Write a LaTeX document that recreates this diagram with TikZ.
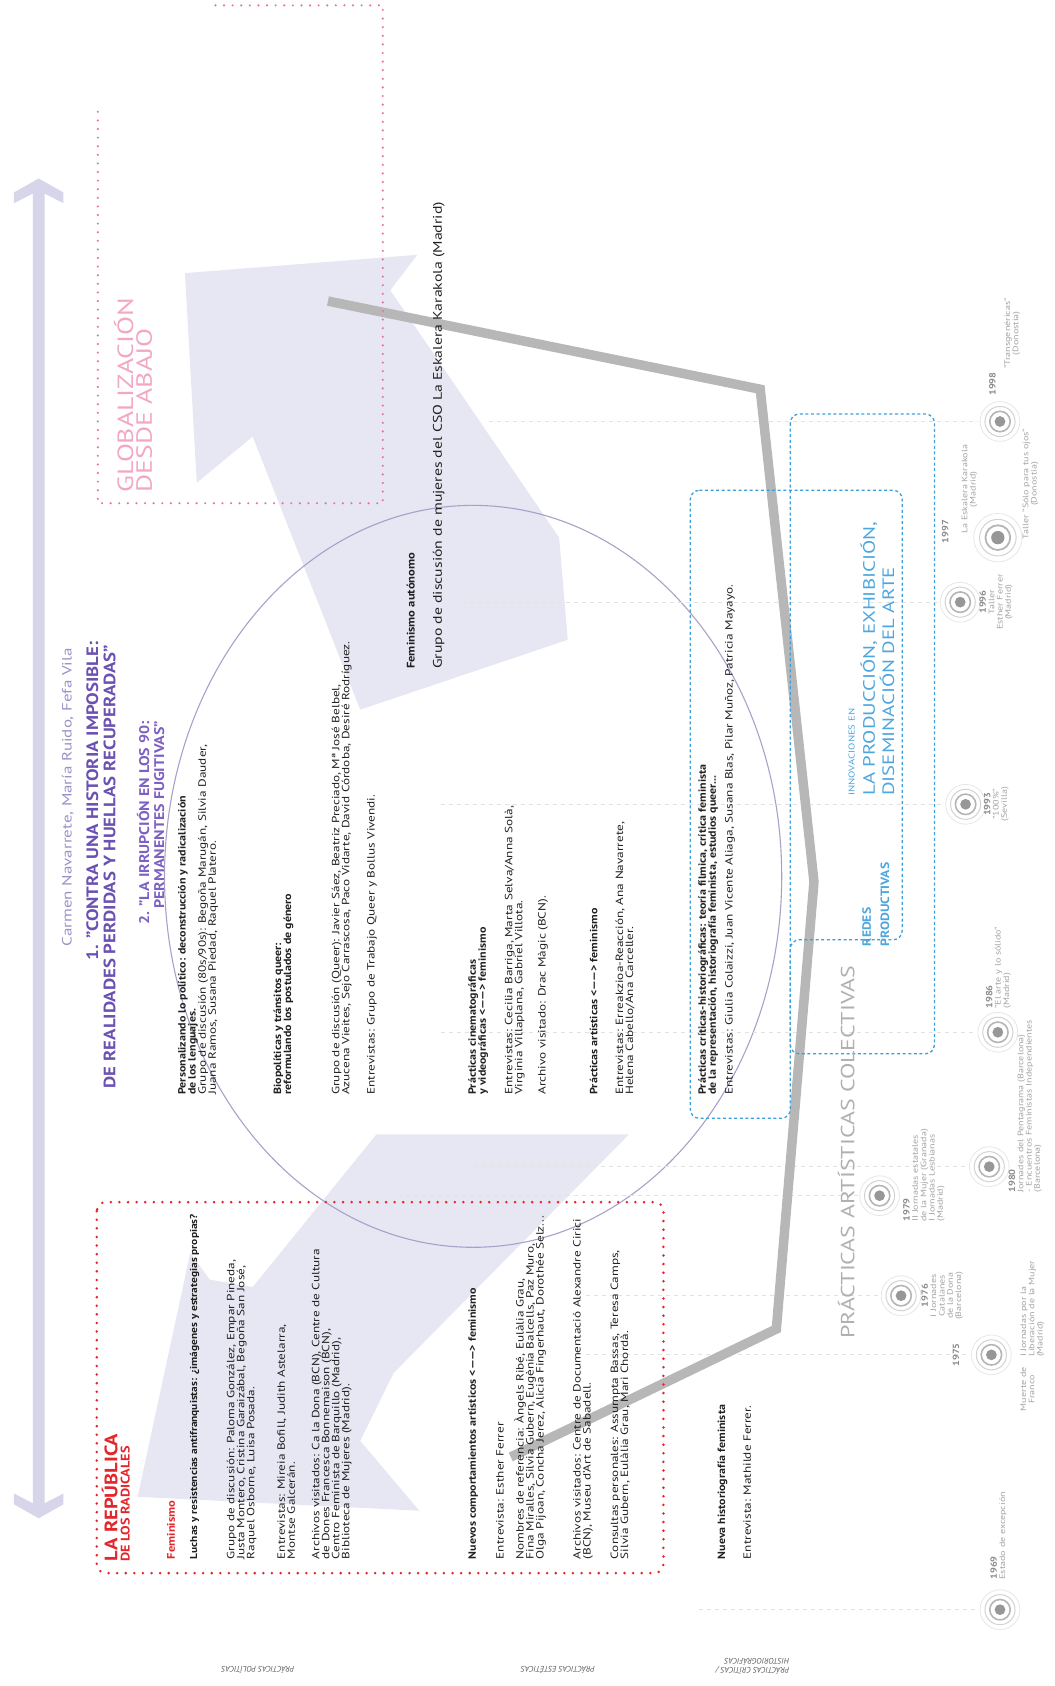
\documentclass[tikz,border=0pt]{standalone}
\usepackage{fontspec}
\setmainfont[UprightFeatures={FakeStretch=1.26},BoldFeatures={FakeStretch=1.14}]{PT Sans}
\newfontfamily\flatfont{PT Sans}
\definecolor{lav}{HTML}{D6D5EA}
\definecolor{pale}{HTML}{E7E6F3}
\definecolor{purp}{HTML}{6B51B2}
\definecolor{purp2}{HTML}{7C61C4}
\definecolor{auth}{HTML}{9A90C8}
\definecolor{pinkd}{HTML}{E8759F}
\definecolor{pinkt}{HTML}{F2A7C4}
\definecolor{redd}{HTML}{E2262C}
\definecolor{blued}{HTML}{3C9FDA}
\definecolor{bluet}{HTML}{4DA6DE}
\definecolor{txt}{HTML}{202020}
\definecolor{greyl}{HTML}{B7B7B7}
\definecolor{tly}{HTML}{8A8A8A}
\definecolor{tlt}{HTML}{A3A3A3}
\definecolor{ringa}{HTML}{B5B5B5}
\definecolor{ringb}{HTML}{D2D2D2}
\definecolor{ringc}{HTML}{E6E6E6}
\definecolor{dotc}{HTML}{979797}
\definecolor{circ}{HTML}{A7A1C9}
\definecolor{guidec}{HTML}{E2E2E2}
\definecolor{colect}{HTML}{B0B0B0}
\definecolor{lab}{HTML}{5E5E5E}
\tikzset{
  tlmark/.pic={
    \draw[ringc,line width=0.8pt] (0,0) circle (18.5);
    \draw[ringb,line width=1pt] (0,0) circle (14);
    \draw[ringa,line width=1.6pt] (0,0) circle (9.5);
    \fill[dotc] (0,0) circle (5);
  },
  tlbig/.pic={
    \draw[ringc,line width=0.8pt] (0,0) circle (22.5);
    \draw[ringb,line width=1pt] (0,0) circle (17);
    \draw[ringa,line width=1.8pt] (0,0) circle (11.5);
    \fill[dotc] (0,0) circle (6.2);
  }
}
\begin{document}
\begin{tikzpicture}[x=1.0753pt,y=-1.0753pt,
  rt/.style={rotate=90,inner sep=0pt,outer sep=0pt,align=left},
  body/.style={rt,font=\fontsize{10.5}{10}\selectfont,text=txt},
  hd/.style={rt,font=\fontsize{10.5}{10}\selectfont\bfseries,text=txt},
  tlyear/.style={rt,font=\fontsize{9}{9}\selectfont\bfseries,text=tly},
  tltext/.style={rt,font=\fontsize{8}{8.3}\selectfont,text=tlt},
  dotpink/.style={pinkd,line width=2.4pt,dash pattern=on 0pt off 8.6pt,line cap=round},
  dotred/.style={redd,line width=2.8pt,dash pattern=on 0pt off 8.6pt,line cap=round,rounded corners=9},
  dashblue/.style={blued,line width=1.3pt,dash pattern=on 3pt off 2.6pt,rounded corners=9},
  guide/.style={guidec,line width=0.9pt,dash pattern=on 4pt off 4pt},
  blab/.style={inner sep=0pt,rotate=180,font=\flatfont\itshape\fontsize{8}{9}\selectfont,text=lab,align=left}
]
\useasboundingbox (0,0) rectangle (981,1568);

% pale cyclic arrows
\fill[pale] (172,254) -- (388,237) -- (363,270) -- (520,500) -- (528,595) -- (335,660) -- (235,406) -- (183,449) -- cycle;
\fill[pale] (128,1392) -- (177,1165) -- (195,1190) -- (235,1197) -- (350,1055) -- (585,1055) -- (366,1277) -- (335,1340) -- (390,1405) -- cycle;

% big double arrow
\fill[lav] (36,166) -- (59,179) -- (59,189) -- (41.5,180) -- (41.5,1398) -- (59,1389) -- (59,1399) -- (36,1412) -- (13,1399) -- (13,1389) -- (30.5,1398) -- (30.5,180) -- (13,189) -- (13,179) -- cycle;

% circle
\draw[circ,line width=1.1pt] (440,815) ellipse [x radius=287,y radius=345];

% timeline marker positions
\coordinate (m1969) at (930,1497);
\coordinate (m1975) at (922,1260);
\coordinate (m1976) at (838,1205);
\coordinate (m1979) at (818,1112);
\coordinate (m1980) at (920,1085);
\coordinate (m1986) at (928,960);
\coordinate (m1993) at (898,748);
\coordinate (m1996) at (893,560);
\coordinate (m1997) at (928,500);
\coordinate (m1998) at (930,392);
\draw[guide] (455,392) -- (910,392);
\draw[guide] (430,560) -- (873,560);
\draw[guide] (410,748) -- (878,748);
\draw[guide] (410,960) -- (908,960);
\draw[guide] (440,1085) -- (900,1085);
\draw[guide] (370,1112) -- (798,1112);
\draw[guide] (545,1205) -- (818,1205);
\draw[guide] (545,1260) -- (902,1260);
\draw[guide] (650,1497) -- (910,1497);

% grey polyline
\coordinate (g1) at (305,280);
\coordinate (g2) at (707,362);
\coordinate (g3) at (757,820);
\coordinate (g4) at (722,1236);
\coordinate (g5) at (475,1355);
\draw[greyl,line width=9.5pt] (g1) -- (g2) -- (g3) -- (g4) -- (g5);

% pink box
\draw[dotpink] (91,104) -- (91,468) -- (356,468) -- (356,5) -- (195,5);
% red box
\draw[dotred] (90,1118) rectangle (617,1463);
% blue boxes
\draw[dashblue] (735,385) rectangle (869,980);
\draw[dashblue] (642,456) -- (839,456) -- (839,874) -- (735,874) -- (735,1040) -- (642,1040) -- cycle;

% left strip titles
\node[rt,anchor=west,font=\fontsize{13.5}{13}\selectfont,text=auth] (author) at (63,880) {Carmen Navarrete, María Ruido, Fefa Vila};
\node[rt,anchor=west,font=\fontsize{16.5}{16}\selectfont\bfseries,text=purp] (t1a) at (86,893) {1. "CONTRA UNA HISTORIA IMPOSIBLE:};
\node[rt,anchor=west,font=\fontsize{16.5}{16}\selectfont\bfseries,text=purp] (t1b) at (102,1012) {DE REALIDADES PERDIDAS Y HUELLAS RECUPERADAS"};
\node[rt,anchor=west,font=\fontsize{14}{14}\selectfont\bfseries,text=purp2] (t2a) at (133,860) {2. "LA IRRUPCIÓN EN LOS 90:};
\node[rt,anchor=west,font=\fontsize{14}{14}\selectfont\bfseries,text=purp2] (t2b) at (148,845) {PERMANENTES FUGITIVAS"};

% pink titles
\node[rt,anchor=west,font=\fontsize{22}{22}\selectfont,text=pinkt] (glob1) at (115,458) {GLOBALIZACIÓN};
\node[rt,anchor=west,font=\fontsize{22}{22}\selectfont,text=pinkt] (glob2) at (134,458) {DESDE ABAJO};

% red titles
\node[rt,anchor=west,font=\fontsize{18}{18}\selectfont\bfseries,text=redd] (rep1) at (102,1452) {LA REPÚBLICA};
\node[rt,anchor=west,font=\fontsize{12.5}{12}\selectfont\bfseries,text=redd] (rep2) at (116.5,1452) {DE LOS RADICALES};
\node[rt,anchor=west,font=\fontsize{11}{11}\selectfont\bfseries,text=redd] (fem) at (159,1450) {Feminismo};

% left column
\node[hd,anchor=west,font=\fontsize{10}{10}\selectfont\bfseries] (luchas) at (181,1450) {Luchas y resistencias antifranquistas: ¿imágenes y estrategias propias?};
\node[body,anchor=north west] (grupo1) at (211,1450) {Grupo de discusión: Paloma González, Empar Pineda,\\Justa Montero, Cristina Garaizábal, Begoña San José,\\Raquel Osborne, Luisa Posada.};
\node[body,anchor=north west] (entrev1) at (258,1450) {Entrevistas: Mireia Bofill, Judith Astelarra,\\Montse Galcerán.};
\node[body,anchor=north west] (arch1) at (290,1450) {Archivos visitados: Ca la Dona (BCN), Centre de Cultura\\de Dones Francesca Bonnemaison (BCN),\\Centro Feminista de Barquillo (Madrid),\\Biblioteca de Mujeres (Madrid).};
\node[hd,anchor=west] (nuevos) at (440,1450) {Nuevos comportamientos artísticos <——> feminismo};
\node[body,anchor=west] (esther) at (465,1450) {Entrevista: Esther Ferrer};
\node[body,anchor=north west] (nombres) at (478.5,1450) {Nombres de referencia: Àngels Ribé, Eulàlia Grau,\\Fina Miralles, Silvia Gubern, Eugènia Balcells, Paz Muro,\\Olga Pijoan, Concha Jerez, Alicia Fingerhaut, Dorothée Selz...};
\node[body,anchor=north west] (arch2) at (533,1450) {Archivos visitados: Centre de Documentació Alexandre Cirici\\(BCN), Museu d'Art de Sabadell.};
\node[body,anchor=north west] (consul) at (568,1450) {Consultas personales: Assumpta Bassas, Teresa Camps,\\Silvia Gubern, Eulàlia Grau, Mari Chordà.};
\node[hd,anchor=west] (nuevah) at (672,1450) {Nueva historiografía feminista};
\node[body,anchor=west] (mathilde) at (695,1450) {Entrevista: Mathilde Ferrer.};

% middle column
\node[hd,anchor=north west] (perso) at (165.5,1018) {Personalizando lo político: deconstrucción y radicalización\\de los lenguajes.};
\node[body,anchor=north west] (grupo2) at (184.5,1018) {Grupo de discusión (80s/90s): Begoña Marugán, Silvia Dauder,\\Juana Ramos, Susana Piedad, Raquel Platero.};
\node[hd,anchor=north west] (biop) at (254.5,1018) {Biopolíticas y tránsitos queer:\\reformulando los postulados de género};
\node[body,anchor=north west] (queer) at (308.5,1018) {Grupo de discusión (Queer): Javier Sáez, Beatriz Preciado, Mª José Belbel,\\Azucena Vieites, Sejo Carrascosa, Paco Vidarte, David Córdoba, Desiré Rodríguez.};
\node[body,anchor=west] (bollus) at (346,1018) {Entrevistas: Grupo de Trabajo Queer y Bollus Vivendi.};
\node[hd,anchor=north west] (cine) at (435.5,1018) {Prácticas cinematográficas\\y videográficas <——> feminismo};
\node[body,anchor=north west] (cecilia) at (469.5,1018) {Entrevistas: Cecilia Barriga, Marta Selva/Anna Solà,\\Virginia Villaplana, Gabriel Villota.};
\node[body,anchor=west] (drac) at (505,1018) {Archivo visitado: Drac Màgic (BCN).};
\node[hd,anchor=west] (artis) at (552,1018) {Prácticas artísticas <——> feminismo};
\node[body,anchor=north west] (erreak) at (572.5,1018) {Entrevistas: Erreakzioa-Reacción, Ana Navarrete,\\Helena Cabello/Ana Carceller.};
\node[hd,anchor=north west] (critic) at (649.5,1018) {Prácticas críticas-historiográficas: teoría fílmica, crítica feminista\\de la representación, historiografía feminista, estudios queer...};
\node[body,anchor=west] (giulia) at (679,1018) {Entrevistas: Giulia Colaizzi, Juan Vicente Aliaga, Susana Blas, Pilar Muñoz, Patricia Mayayo.};

% right
\node[hd,anchor=west,font=\fontsize{11}{11}\selectfont\bfseries] (femaut) at (382,622) {Feminismo autónomo};
\node[rt,anchor=west,font=\fontsize{12.5}{12}\selectfont,text=txt] (cso) at (408,622) {Grupo de discusión de mujeres del CSO La Eskalera Karakola (Madrid)};

% collective practices
\node[rt,anchor=west,font=\fontsize{19}{19}\selectfont,text=colect] (colec) at (787,1245) {PRÁCTICAS ARTÍSTICAS COLECTIVAS};
\node[rt,anchor=west,font=\fontsize{8.5}{8}\selectfont,text=bluet] (innov1) at (792,740) {INNOVACIONES EN};
\node[rt,anchor=west,font=\fontsize{16.5}{16}\selectfont,text=bluet] (innov2) at (808,740) {LA PRODUCCIÓN, EXHIBICIÓN,};
\node[rt,anchor=west,font=\fontsize{16.5}{16}\selectfont,text=bluet] (innov3) at (825,740) {DISEMINACIÓN DEL ARTE};
\node[rt,anchor=west,font=\fontsize{12}{12}\selectfont\bfseries,text=bluet] (redes1) at (806,880) {REDES};
\node[rt,anchor=west,font=\fontsize{12}{12}\selectfont\bfseries,text=bluet] (redes2) at (823,880) {PRODUCTIVAS};

% timeline markers
\pic at (m1969) {tlmark};
\pic at (m1975) {tlmark};
\pic at (m1976) {tlmark};
\pic at (m1979) {tlmark};
\pic at (m1980) {tlmark};
\pic at (m1986) {tlmark};
\pic at (m1993) {tlmark};
\pic at (m1996) {tlmark};
\pic at (m1997) {tlbig};
\pic at (m1998) {tlmark};

% timeline labels
\node[tltext,anchor=north west] (l1969) at (921,1469) {\textcolor{tly}{\bfseries\fontsize{9}{8}\selectfont 1969}\\Estado de excepción};
\node[tlyear,anchor=south] (y1975) at (892,1260) {1975};
\node[tltext,anchor=north,align=center] (l1975a) at (949,1292) {Muerte de\\Franco};
\node[tltext,anchor=north west] (l1975b) at (949,1262) {I Jornadas por la\\Liberación de la Mujer\\(Madrid)};
\node[tltext,anchor=north,align=center] (l1976) at (857,1205) {\textcolor{tly}{\bfseries\fontsize{9}{8}\selectfont 1976}\\I Jornades\\Catalanes\\de la Dona\\(Barcelona)};
\node[tltext,anchor=north west] (l1979) at (840,1136) {\textcolor{tly}{\bfseries\fontsize{9}{8}\selectfont 1979}\\II Jornadas estatales\\de la Mujer (Granada)\\I Jornadas Lesbianas\\(Madrid)};
\node[tltext,anchor=north west] (l1980) at (938,1109) {\textcolor{tly}{\bfseries\fontsize{9}{8}\selectfont 1980}\\Jornades del Pentagrama (Barcelona)\\- Encuentros Feministas Independientes\\(Barcelona)};
\node[tltext,anchor=north west] (l1986) at (917,938) {\textcolor{tly}{\bfseries\fontsize{9}{8}\selectfont 1986}\\"El arte y lo sólido"\\(Madrid)};
\node[tltext,anchor=north,align=center] (l1993) at (915,748) {\textcolor{tly}{\bfseries\fontsize{9}{8}\selectfont 1993}\\"100\%"\\(Sevilla)};
\node[tltext,anchor=north,align=center] (l1996) at (911,560) {\textcolor{tly}{\bfseries\fontsize{9}{8}\selectfont 1996}\\Taller\\Esther Ferrer\\(Madrid)};
\node[tlyear,anchor=north west] (y1997) at (876,505) {1997};
\node[tltext,anchor=south,align=center] (l1997a) at (909,455) {La Eskalera Karakola\\(Madrid)};
\node[tltext,anchor=north,align=center] (l1997b) at (951,450) {Taller "Sólo para tus ojos"\\(Donostia)};
\node[tlyear,anchor=north west] (y1998) at (920,368) {1998};
\node[tltext,anchor=north,align=center] (l1998) at (934,310) {"Transgenéricas"\\(Donostia)};

% bottom labels
\node[blab] (bpol) at (240,1553) {PRÁCTICAS POLÍTICAS};
\node[blab] (best) at (519,1553) {PRÁCTICAS ESTÉTICAS};
\node[blab] (bcrit) at (700,1550) {PRÁCTICAS CRÍTICAS /\\HISTORIOGRÁFICAS};
\end{tikzpicture}
\end{document}
